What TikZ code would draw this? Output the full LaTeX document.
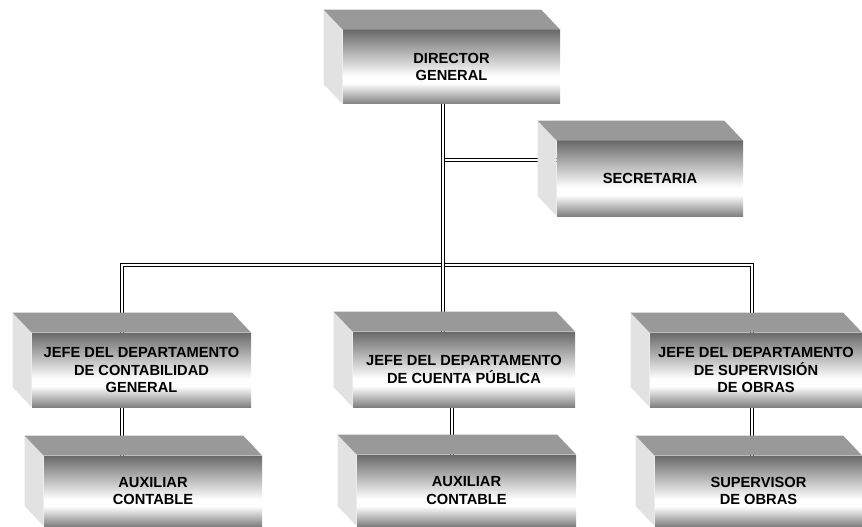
\documentclass[tikz,border=0pt]{standalone}
\usepackage{fontspec}
\setmainfont{Liberation Sans}
\usepackage{xcolor}
\usetikzlibrary{backgrounds}

\definecolor{faceTop}{HTML}{6A6A6A}
\definecolor{faceLow}{HTML}{808080}
\definecolor{topGray}{HTML}{999999}
\definecolor{sideGray}{HTML}{E2E2E2}

\pgfdeclareverticalshading{frontface}{100bp}{color(0bp)=(faceLow); color(25bp)=(faceLow); color(39bp)=(white); color(44bp)=(white); color(75bp)=(faceTop); color(100bp)=(faceTop)}

\tikzset{
	front/.style={shade, shading=frontface, inner sep=0pt, align=center,
		font=\bfseries\fontsize{11}{13.2}\selectfont},
	fw/.style={minimum width=#1*0.75pt},
	fh/.style={minimum height=#1*0.75pt},
	link/.style={draw=black, double=white, line width=1pt, double distance=1pt},
	topside/.style={fill=topGray},
	leftside/.style={fill=sideGray}
}

% top and left faces behind a front face
\newcommand{\boxsides}[1]{%
	\fill[leftside] (#1.north west) -- ++(-19,-20) -- ([shift={(-19,-20)}]#1.south west) -- (#1.south west) -- cycle;
	\fill[topside] (#1.north west) -- ++(-19,-20) -- ([shift={(-19,-20)}]#1.north east) -- (#1.north east) -- cycle;
}

\begin{document}
\begin{tikzpicture}[x=0.75pt,y=-0.75pt]
	\useasboundingbox (0,0) rectangle (862,527);

	% front faces
	\node[front,fw=217,fh=74] (dir) at (451.5,67) {DIRECTOR\\GENERAL};
	\node[front,fw=186,fh=75] (sec) at (650,178.5) {SECRETARIA};
	\node[front,fw=219,fh=74] (jefeA) at (141.5,370) {JEFE DEL DEPARTAMENTO\\DE CONTABILIDAD\\GENERAL};
	\node[front,fw=222,fh=75] (jefeB) at (464,369.5) {JEFE DEL DEPARTAMENTO\\DE CUENTA PÚBLICA};
	\node[front,fw=212,fh=74] (jefeC) at (756,370) {JEFE DEL DEPARTAMENTO\\DE SUPERVISIÓN\\DE OBRAS};
	\node[front,fw=218,fh=70] (auxA) at (153,491) {AUXILIAR\\CONTABLE};
	\node[front,fw=219,fh=71] (auxB) at (466.5,490.5) {AUXILIAR\\CONTABLE};
	\node[front,fw=207,fh=70] (auxC) at (758.5,491) {SUPERVISOR\\DE OBRAS};

	\foreach \b in {dir,sec,jefeA,jefeB,jefeC,auxA,auxB,auxC}
		\boxsides{\b};

	\coordinate (bL) at (122,265);
	\coordinate (bM) at (443,265);
	\coordinate (bR) at (752,265);
	\coordinate (sJ) at (443,160);
	\coordinate (cB) at (452,430);

	\begin{scope}[on background layer]
		\draw[link] (sJ) -- (sJ -| sec.west);
		\draw[link] (jefeA.north -| bL) -- (bL) -- (bR) -- (jefeC.north -| bR);
		\draw[link] (bM |- dir.south) -- (bM |- jefeB.north);
		\draw[link] (jefeA.south -| bL) -- (auxA.north -| bL);
		\draw[link] (jefeB.south -| cB) -- (auxB.north -| cB);
		\draw[link] (jefeC.south -| bR) -- (auxC.north -| bR);
	\end{scope}
\end{tikzpicture}
\end{document}
